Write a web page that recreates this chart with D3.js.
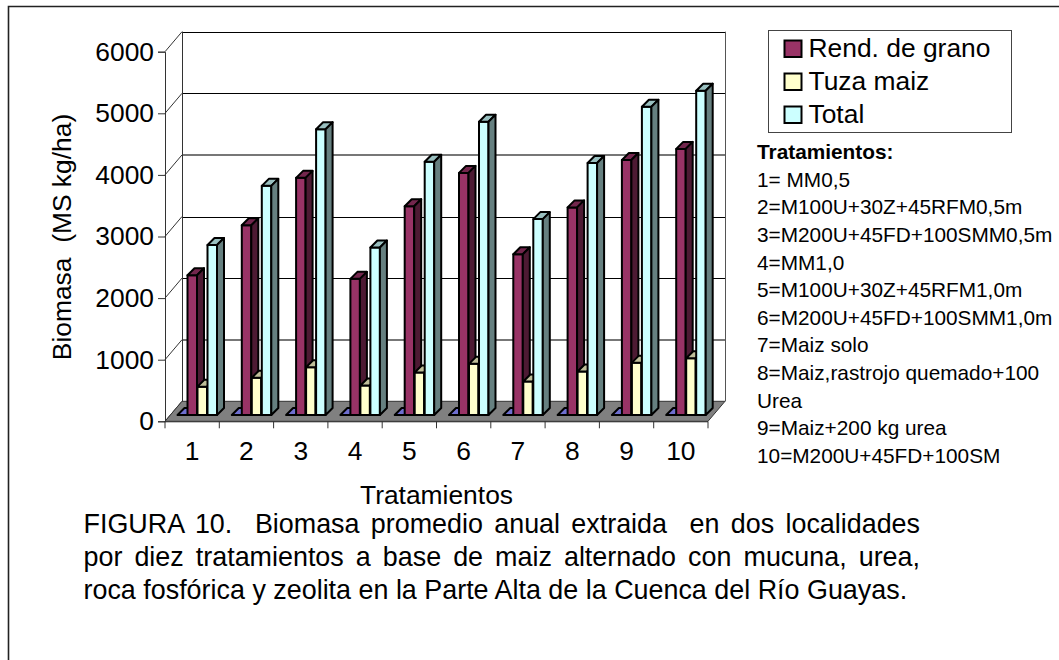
<!DOCTYPE html>
<html>
<head>
<meta charset="utf-8">
<script src="https://cdn.jsdelivr.net/npm/d3@7/dist/d3.min.js"></script>
<style>
html,body{margin:0;padding:0;background:#fff}
svg{display:block}
text{font-family:"Liberation Sans",Arial,sans-serif;fill:#000}
</style>
</head>
<body>
<svg id="chart" width="1059" height="660"></svg>
<script>
const categories = ["1","2","3","4","5","6","7","8","9","10"];
const rendGrano = [2270,3080,3850,2210,3390,3930,2610,3370,4140,4320];
const tuzaMaiz = [460,605,775,480,690,830,545,705,850,920];
const total = [2760,3720,4640,2720,4110,4760,3180,4090,5005,5265];
const blank = [0,0,0,0,0,0,0,0,0,0];
const yTicks = [0,1000,2000,3000,4000,5000,6000];
const legendNames = ["Rend. de grano","Tuza maiz","Total"];
const treatments = ["1= MM0,5","2=M100U+30Z+45RFM0,5m","3=M200U+45FD+100SMM0,5m","4=MM1,0","5=M100U+30Z+45RFM1,0m","6=M200U+45FD+100SMM1,0m","7=Maiz solo","8=Maiz,rastrojo quemado+100","Urea","9=Maiz+200 kg urea","10=M200U+45FD+100SM"];
const captionLines = ["FIGURA 10.  Biomasa promedio anual extraida  en dos localidades","por diez tratamientos a base de maiz alternado con mucuna, urea,","roca fosfórica y zeolita en la Parte Alta de la Cuenca del Río Guayas."];

const seriesList = [
  {key:"blank",values:blank,front:"#6f6fd0",top:"#6f6fd0",side:"#4a4a8a"},
  {key:"rend",values:rendGrano,front:"#993366",top:"#73264d",side:"#4d1a33"},
  {key:"tuza",values:tuzaMaiz,front:"#ffffcc",top:"#bfbf99",side:"#808066"},
  {key:"total",values:total,front:"#ccffff",top:"#99bfbf",side:"#668080"}
];

const svg = d3.select("#chart");
const wallDx = 17, wallDy = -20, barDepth = 7, barLift = -6.3;
const x = d3.scaleBand().domain(categories).range([165,708]);
const inner = d3.scaleBand().domain(seriesList.map(s=>s.key)).range([12.5,52.5]);
const y = d3.scaleLinear().domain([0,6000]).range([421.3,51.7]);
const pts = a => a.map(p=>p.join(",")).join(" ");

// frame
svg.append("path").attr("d","M8.5,660V6.5H1059").attr("fill","none").attr("stroke","#222").attr("stroke-width",1.6);

// walls and grid
const L=x.range()[0], R=x.range()[1];
const grid = svg.append("g");
grid.selectAll("line.grid").data(yTicks.slice(1)).join("line")
  .attr("x1",L+wallDx).attr("x2",R+wallDx)
  .attr("y1",d=>Math.round(y(d)+wallDy)+(d===4000||d===1000?0:0.5))
  .attr("y2",d=>Math.round(y(d)+wallDy)+(d===4000||d===1000?0:0.5))
  .attr("stroke",d=>(d===4000||d===1000)?"#777":"#000")
  .attr("stroke-width",d=>(d===4000||d===1000)?2:1);
grid.selectAll("line.diag").data(yTicks).join("line")
  .attr("x1",L).attr("y1",d=>y(d)).attr("x2",L+wallDx).attr("y2",d=>y(d)+wallDy)
  .attr("stroke","#333").attr("stroke-width",1);
grid.append("line").attr("x1",L+wallDx+.5).attr("x2",L+wallDx+.5).attr("y1",y(6000)+wallDy).attr("y2",y(0)+wallDy).attr("stroke","#333");
grid.append("line").attr("x1",R+wallDx+.5).attr("x2",R+wallDx+.5).attr("y1",y(6000)+wallDy).attr("y2",y(0)+wallDy).attr("stroke","#555");

// floor
svg.append("polygon")
  .attr("points",pts([[L,y(0)],[R,y(0)],[R+wallDx,y(0)+wallDy],[L+wallDx,y(0)+wallDy]]))
  .attr("fill","#808080").attr("stroke","#333").attr("stroke-width",1);

// bars
const groups = svg.selectAll("g.group").data(categories).join("g").attr("class","group")
  .attr("transform",d=>`translate(${x(d)},0)`);
groups.each(function(cat,i){
  const g = d3.select(this);
  seriesList.forEach(s=>{
    const v = s.values[i];
    const x0 = inner(s.key), w = inner.bandwidth()-0.5;
    const x1 = x0+w;
    const yb = y(0)+barLift, yt = y(v)+barLift;
    const bar = g.append("g").attr("stroke","#000").attr("stroke-width",2).attr("stroke-linejoin","round");
    if(s.key!=="blank"){
      bar.append("rect").attr("x",x0).attr("y",yt).attr("width",w).attr("height",yb-yt).attr("fill",s.front);
    }
    bar.append("polygon").attr("points",pts([[x0,yt],[x1,yt],[x1+barDepth,yt-barDepth],[x0+barDepth,yt-barDepth]])).attr("fill",s.top);
    if(s.key!=="blank"){
      bar.append("polygon").attr("points",pts([[x1,yt],[x1+barDepth,yt-barDepth],[x1+barDepth,yb-barDepth],[x1,yb]])).attr("fill",s.side);
    }
  });
});

// axes
const axisY = d3.axisLeft(y).tickValues(yTicks).tickFormat(d3.format("d")).tickSize(7).tickPadding(4);
const gy = svg.append("g").attr("transform",`translate(${L},0)`).call(axisY);
gy.select(".domain").attr("stroke","#333");
gy.selectAll(".tick line").attr("stroke","#333");
gy.selectAll("text").attr("font-size",26.4).attr("font-family","Liberation Sans");
const axisX = d3.axisBottom(x).tickSize(0).tickPadding(20);
const gx = svg.append("g").attr("transform",`translate(0,${y(0)})`).call(axisX);
gx.select(".domain").attr("stroke","#333").attr("d",`M${L},0.5H${R}`);
gx.selectAll("text").attr("font-size",26.4).attr("font-family","Liberation Sans");
gx.selectAll("line.sep").data(d3.range(0,11)).join("line").attr("class","sep")
  .attr("x1",i=>L+x.step()*i).attr("x2",i=>L+x.step()*i).attr("y1",0).attr("y2",7).attr("stroke","#333");

// axis titles
svg.append("text").attr("transform","translate(71,237) rotate(-90)").attr("text-anchor","middle").attr("font-size",26.4).style("white-space","pre").text("Biomasa  (MS kg/ha)");
svg.append("text").attr("x",436.5).attr("y",503.5).attr("text-anchor","middle").attr("font-size",26.4).text("Tratamientos");

// legend
svg.append("rect").attr("x",768.5).attr("y",30.5).attr("width",243).attr("height",102).attr("fill","#fff").attr("stroke","#444").attr("stroke-width",1);
const legendColors = seriesList.slice(1).map(s=>s.front);
const leg = svg.selectAll("g.leg").data(legendNames).join("g").attr("class","leg");
leg.append("rect").attr("x",784.5).attr("y",(d,i)=>40.5+i*33).attr("width",17).attr("height",16.5).attr("fill",(d,i)=>legendColors[i]).attr("stroke","#000").attr("stroke-width",2);
leg.append("text").attr("x",808.5).attr("y",(d,i)=>56.9+i*33).attr("font-size",26.4).text(d=>d);

// treatments
svg.append("text").attr("x",757).attr("y",159).attr("font-size",20.8).attr("font-weight","bold").text("Tratamientos:");
svg.selectAll("text.tr").data(treatments).join("text").attr("class","tr").attr("x",757).attr("y",(d,i)=>186.7+i*27.6).attr("font-size",20.8).text(d=>d);

// caption, justified
const cap = svg.selectAll("text.cap").data(captionLines).join("text").attr("class","cap")
  .attr("x",83.5).attr("y",(d,i)=>533+i*33).attr("font-size",26.9).style("white-space","pre").text(d=>d);
cap.each(function(d,i){
  if(i===2) return;
  const t=d3.select(this), n=(d.match(/ /g)||[]).length;
  const len=this.getComputedTextLength();
  t.style("word-spacing",((920-83.5-len)/n)+"px");
});
</script>
</body>
</html>
